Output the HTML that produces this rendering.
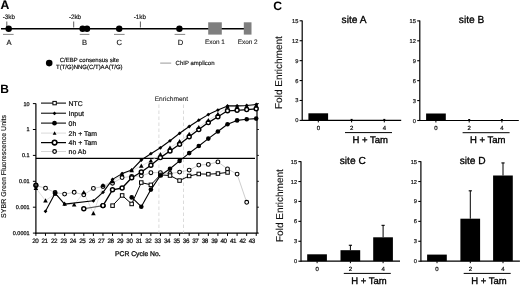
<!DOCTYPE html>
<html><head><meta charset="utf-8"><style>
html,body{margin:0;padding:0;background:#fff;}
svg{display:block;font-family:"Liberation Sans", sans-serif;text-rendering:geometricPrecision;filter:blur(0.3px);}
</style></head><body>
<svg width="520" height="285" viewBox="0 0 520 285">
<rect width="520" height="285" fill="#fff"/>
<text x="0.4" y="9.0" font-size="12.2" text-anchor="start" font-weight="bold" fill="#000" stroke="#000" stroke-width="0.1">A</text>
<line x1="1" y1="28.7" x2="244" y2="28.7" stroke="#000" stroke-width="1.4" />
<line x1="6.8" y1="21.5" x2="6.8" y2="27.5" stroke="#333" stroke-width="0.8" />
<text x="8.9" y="18.7" font-size="6.3" text-anchor="middle" font-weight="normal" fill="#111"  stroke="#111" stroke-width="0.15">-3kb</text>
<line x1="73.7" y1="21.5" x2="73.7" y2="27.5" stroke="#333" stroke-width="0.8" />
<text x="75.0" y="18.7" font-size="6.3" text-anchor="middle" font-weight="normal" fill="#111"  stroke="#111" stroke-width="0.15">-2kb</text>
<line x1="140.4" y1="21.5" x2="140.4" y2="27.5" stroke="#333" stroke-width="0.8" />
<text x="139.8" y="18.7" font-size="6.3" text-anchor="middle" font-weight="normal" fill="#111"  stroke="#111" stroke-width="0.15">-1kb</text>
<rect x="208.2" y="22.3" width="13.6" height="12.3" fill="#7f7f7f"/>
<rect x="243.8" y="22.3" width="7.7" height="12.3" fill="#7f7f7f"/>
<text x="214.9" y="43.6" font-size="6.4" text-anchor="middle" font-weight="normal" fill="#222"  stroke="#222" stroke-width="0.12">Exon 1</text>
<text x="247.7" y="43.6" font-size="6.4" text-anchor="middle" font-weight="normal" fill="#222"  stroke="#222" stroke-width="0.12">Exon 2</text>
<circle cx="8.7" cy="28.7" r="3.2" fill="#000"/>
<circle cx="82.6" cy="28.7" r="3.2" fill="#000"/>
<circle cx="87.0" cy="28.7" r="3.2" fill="#000"/>
<circle cx="119.2" cy="28.7" r="3.2" fill="#000"/>
<circle cx="179.4" cy="28.7" r="3.2" fill="#000"/>
<line x1="3" y1="34.4" x2="13.6" y2="34.4" stroke="#777" stroke-width="0.9" />
<line x1="79.8" y1="34.4" x2="89.4" y2="34.4" stroke="#777" stroke-width="0.9" />
<line x1="114" y1="34.4" x2="124.6" y2="34.4" stroke="#777" stroke-width="0.9" />
<line x1="174.6" y1="34.4" x2="185.2" y2="34.4" stroke="#777" stroke-width="0.9" />
<text x="9.1" y="44.8" font-size="7.6" text-anchor="middle" font-weight="normal" fill="#111"  stroke="#111" stroke-width="0.15">A</text>
<text x="84.6" y="44.8" font-size="7.6" text-anchor="middle" font-weight="normal" fill="#111"  stroke="#111" stroke-width="0.15">B</text>
<text x="119.3" y="44.8" font-size="7.6" text-anchor="middle" font-weight="normal" fill="#111"  stroke="#111" stroke-width="0.15">C</text>
<text x="180.4" y="44.8" font-size="7.6" text-anchor="middle" font-weight="normal" fill="#111"  stroke="#111" stroke-width="0.15">D</text>
<circle cx="49.2" cy="63.1" r="3.3" fill="#000"/>
<text x="89.4" y="62" font-size="6" text-anchor="middle" font-weight="normal" fill="#000"  stroke="#000" stroke-width="0.15">C/EBP consensus site</text>
<text x="89.3" y="69.2" font-size="6" text-anchor="middle" font-weight="normal" fill="#000"  stroke="#000" stroke-width="0.15">T(T/G)NNG(C/T)AA(T/G)</text>
<line x1="160.2" y1="63.1" x2="171.2" y2="63.1" stroke="#999" stroke-width="1" />
<text x="175.6" y="65.4" font-size="6" text-anchor="start" font-weight="normal" fill="#111"  stroke="#111" stroke-width="0.15">ChIP amplicon</text>
<text x="0.2" y="92.5" font-size="12.0" text-anchor="start" font-weight="bold" fill="#000" >B</text>
<line x1="35.9" y1="103.6" x2="35.9" y2="233.6" stroke="#000" stroke-width="1.2" />
<line x1="35.3" y1="233.1" x2="257.6" y2="233.1" stroke="#000" stroke-width="1.2" />
<line x1="257.0" y1="103.6" x2="257.0" y2="233.1" stroke="#000" stroke-width="1.2" />
<line x1="32.9" y1="233.1" x2="35.9" y2="233.1" stroke="#000" stroke-width="1" />
<line x1="257.0" y1="233.1" x2="259.0" y2="233.1" stroke="#000" stroke-width="0.8" />
<text x="29.6" y="235.0" font-size="5.5" text-anchor="end" font-weight="normal" fill="#111"  stroke="#111" stroke-width="0.25">0.0001</text>
<line x1="32.9" y1="207.2" x2="35.9" y2="207.2" stroke="#000" stroke-width="1" />
<line x1="257.0" y1="207.2" x2="259.0" y2="207.2" stroke="#000" stroke-width="0.8" />
<text x="29.6" y="209.1" font-size="5.5" text-anchor="end" font-weight="normal" fill="#111"  stroke="#111" stroke-width="0.25">0.001</text>
<line x1="32.9" y1="181.3" x2="35.9" y2="181.3" stroke="#000" stroke-width="1" />
<line x1="257.0" y1="181.3" x2="259.0" y2="181.3" stroke="#000" stroke-width="0.8" />
<text x="29.6" y="183.20000000000002" font-size="5.5" text-anchor="end" font-weight="normal" fill="#111"  stroke="#111" stroke-width="0.25">0.01</text>
<line x1="32.9" y1="155.4" x2="35.9" y2="155.4" stroke="#000" stroke-width="1" />
<line x1="257.0" y1="155.4" x2="259.0" y2="155.4" stroke="#000" stroke-width="0.8" />
<text x="29.6" y="157.3" font-size="5.5" text-anchor="end" font-weight="normal" fill="#111"  stroke="#111" stroke-width="0.25">0.1</text>
<line x1="32.9" y1="129.5" x2="35.9" y2="129.5" stroke="#000" stroke-width="1" />
<line x1="257.0" y1="129.5" x2="259.0" y2="129.5" stroke="#000" stroke-width="0.8" />
<text x="29.6" y="131.4" font-size="5.5" text-anchor="end" font-weight="normal" fill="#111"  stroke="#111" stroke-width="0.25">1</text>
<line x1="32.9" y1="103.6" x2="35.9" y2="103.6" stroke="#000" stroke-width="1" />
<line x1="257.0" y1="103.6" x2="259.0" y2="103.6" stroke="#000" stroke-width="0.8" />
<text x="29.6" y="105.5" font-size="5.5" text-anchor="end" font-weight="normal" fill="#111"  stroke="#111" stroke-width="0.25">10</text>
<line x1="35.9" y1="233.1" x2="35.9" y2="235.9" stroke="#000" stroke-width="1" />
<text x="35.2" y="243.0" font-size="6.3" text-anchor="middle" font-weight="normal" fill="#111" letter-spacing="-0.45" stroke="#111" stroke-width="0.22">20</text>
<line x1="45.48" y1="233.1" x2="45.48" y2="235.9" stroke="#000" stroke-width="1" />
<text x="44.620000000000005" y="243.0" font-size="6.3" text-anchor="middle" font-weight="normal" fill="#111" letter-spacing="-0.45" stroke="#111" stroke-width="0.22">21</text>
<line x1="55.06" y1="233.1" x2="55.06" y2="235.9" stroke="#000" stroke-width="1" />
<text x="54.040000000000006" y="243.0" font-size="6.3" text-anchor="middle" font-weight="normal" fill="#111" letter-spacing="-0.45" stroke="#111" stroke-width="0.22">22</text>
<line x1="64.64" y1="233.1" x2="64.64" y2="235.9" stroke="#000" stroke-width="1" />
<text x="63.46" y="243.0" font-size="6.3" text-anchor="middle" font-weight="normal" fill="#111" letter-spacing="-0.45" stroke="#111" stroke-width="0.22">23</text>
<line x1="74.22" y1="233.1" x2="74.22" y2="235.9" stroke="#000" stroke-width="1" />
<text x="72.88" y="243.0" font-size="6.3" text-anchor="middle" font-weight="normal" fill="#111" letter-spacing="-0.45" stroke="#111" stroke-width="0.22">24</text>
<line x1="83.8" y1="233.1" x2="83.8" y2="235.9" stroke="#000" stroke-width="1" />
<text x="82.30000000000001" y="243.0" font-size="6.3" text-anchor="middle" font-weight="normal" fill="#111" letter-spacing="-0.45" stroke="#111" stroke-width="0.22">25</text>
<line x1="93.38" y1="233.1" x2="93.38" y2="235.9" stroke="#000" stroke-width="1" />
<text x="91.72" y="243.0" font-size="6.3" text-anchor="middle" font-weight="normal" fill="#111" letter-spacing="-0.45" stroke="#111" stroke-width="0.22">26</text>
<line x1="102.96000000000001" y1="233.1" x2="102.96000000000001" y2="235.9" stroke="#000" stroke-width="1" />
<text x="101.14" y="243.0" font-size="6.3" text-anchor="middle" font-weight="normal" fill="#111" letter-spacing="-0.45" stroke="#111" stroke-width="0.22">27</text>
<line x1="112.53999999999999" y1="233.1" x2="112.53999999999999" y2="235.9" stroke="#000" stroke-width="1" />
<text x="110.56" y="243.0" font-size="6.3" text-anchor="middle" font-weight="normal" fill="#111" letter-spacing="-0.45" stroke="#111" stroke-width="0.22">28</text>
<line x1="122.12" y1="233.1" x2="122.12" y2="235.9" stroke="#000" stroke-width="1" />
<text x="119.98" y="243.0" font-size="6.3" text-anchor="middle" font-weight="normal" fill="#111" letter-spacing="-0.45" stroke="#111" stroke-width="0.22">29</text>
<line x1="131.7" y1="233.1" x2="131.7" y2="235.9" stroke="#000" stroke-width="1" />
<text x="129.4" y="243.0" font-size="6.3" text-anchor="middle" font-weight="normal" fill="#111" letter-spacing="-0.45" stroke="#111" stroke-width="0.22">30</text>
<line x1="141.28" y1="233.1" x2="141.28" y2="235.9" stroke="#000" stroke-width="1" />
<text x="138.82" y="243.0" font-size="6.3" text-anchor="middle" font-weight="normal" fill="#111" letter-spacing="-0.45" stroke="#111" stroke-width="0.22">31</text>
<line x1="150.86" y1="233.1" x2="150.86" y2="235.9" stroke="#000" stroke-width="1" />
<text x="148.24" y="243.0" font-size="6.3" text-anchor="middle" font-weight="normal" fill="#111" letter-spacing="-0.45" stroke="#111" stroke-width="0.22">32</text>
<line x1="160.44" y1="233.1" x2="160.44" y2="235.9" stroke="#000" stroke-width="1" />
<text x="157.66" y="243.0" font-size="6.3" text-anchor="middle" font-weight="normal" fill="#111" letter-spacing="-0.45" stroke="#111" stroke-width="0.22">33</text>
<line x1="170.02" y1="233.1" x2="170.02" y2="235.9" stroke="#000" stroke-width="1" />
<text x="167.07999999999998" y="243.0" font-size="6.3" text-anchor="middle" font-weight="normal" fill="#111" letter-spacing="-0.45" stroke="#111" stroke-width="0.22">34</text>
<line x1="179.6" y1="233.1" x2="179.6" y2="235.9" stroke="#000" stroke-width="1" />
<text x="176.5" y="243.0" font-size="6.3" text-anchor="middle" font-weight="normal" fill="#111" letter-spacing="-0.45" stroke="#111" stroke-width="0.22">35</text>
<line x1="189.18" y1="233.1" x2="189.18" y2="235.9" stroke="#000" stroke-width="1" />
<text x="185.92000000000002" y="243.0" font-size="6.3" text-anchor="middle" font-weight="normal" fill="#111" letter-spacing="-0.45" stroke="#111" stroke-width="0.22">36</text>
<line x1="198.76000000000002" y1="233.1" x2="198.76000000000002" y2="235.9" stroke="#000" stroke-width="1" />
<text x="195.33999999999997" y="243.0" font-size="6.3" text-anchor="middle" font-weight="normal" fill="#111" letter-spacing="-0.45" stroke="#111" stroke-width="0.22">37</text>
<line x1="208.34" y1="233.1" x2="208.34" y2="235.9" stroke="#000" stroke-width="1" />
<text x="204.76" y="243.0" font-size="6.3" text-anchor="middle" font-weight="normal" fill="#111" letter-spacing="-0.45" stroke="#111" stroke-width="0.22">38</text>
<line x1="217.92000000000002" y1="233.1" x2="217.92000000000002" y2="235.9" stroke="#000" stroke-width="1" />
<text x="214.18" y="243.0" font-size="6.3" text-anchor="middle" font-weight="normal" fill="#111" letter-spacing="-0.45" stroke="#111" stroke-width="0.22">39</text>
<line x1="227.5" y1="233.1" x2="227.5" y2="235.9" stroke="#000" stroke-width="1" />
<text x="223.60000000000002" y="243.0" font-size="6.3" text-anchor="middle" font-weight="normal" fill="#111" letter-spacing="-0.45" stroke="#111" stroke-width="0.22">40</text>
<line x1="237.08" y1="233.1" x2="237.08" y2="235.9" stroke="#000" stroke-width="1" />
<text x="233.01999999999998" y="243.0" font-size="6.3" text-anchor="middle" font-weight="normal" fill="#111" letter-spacing="-0.45" stroke="#111" stroke-width="0.22">41</text>
<line x1="246.66" y1="233.1" x2="246.66" y2="235.9" stroke="#000" stroke-width="1" />
<text x="242.44" y="243.0" font-size="6.3" text-anchor="middle" font-weight="normal" fill="#111" letter-spacing="-0.45" stroke="#111" stroke-width="0.22">42</text>
<line x1="256.24" y1="233.1" x2="256.24" y2="235.9" stroke="#000" stroke-width="1" />
<text x="251.86" y="243.0" font-size="6.3" text-anchor="middle" font-weight="normal" fill="#111" letter-spacing="-0.45" stroke="#111" stroke-width="0.22">43</text>
<text x="137.8" y="256" font-size="6.8" text-anchor="middle" font-weight="normal" fill="#111"  stroke="#111" stroke-width="0.3">PCR Cycle No.</text>
<text transform="translate(5.7,166.4) rotate(-90)" font-size="7.05" text-anchor="middle" fill="#111" stroke="#111" stroke-width="0.15">SYBR Green Fluorescence Units</text>
<line x1="158.9" y1="104.5" x2="158.9" y2="233.1" stroke="#cfcfcf" stroke-width="0.75" stroke-dasharray="3.5,2.5"/>
<line x1="183.5" y1="104.5" x2="183.5" y2="233.1" stroke="#cfcfcf" stroke-width="0.75" stroke-dasharray="3.5,2.5"/>
<text x="171.4" y="101" font-size="6.6" text-anchor="middle" font-weight="normal" fill="#222"  stroke="#222" stroke-width="0.08">Enrichment</text>
<line x1="35.9" y1="158.4" x2="255" y2="158.4" stroke="#000" stroke-width="1.2" />
<polyline points="35.9,185.5 45.5,188.2 55.1,192.5 64.6,194.1 74.2,192.3 83.8,194.8 93.4,188.4 103.0,186.5 112.5,183.2 122.1,177.6 131.7,176.5 141.3,175.8 150.9,172.7 160.4,172.6 170.0,173.5 179.6,172.1 189.2,170.1 198.8,165.1 208.3,164.4 217.9,161.9 227.5,168.9 237.1,174.1 246.7,202.3" fill="none" stroke="#bcbcbc" stroke-width="0.75" stroke-linejoin="round"/>
<polyline points="35.9,188.2 45.5,200.6 55.1,194.0 64.6,204.0 74.2,204.8 83.8,192.5 93.4,213.4 103.0,185.5 112.5,181.5 122.1,174.5 131.7,170.5 141.3,166.0 150.9,160.8 160.4,154.4 170.0,147.8 179.6,141.4 189.2,134.2 198.8,127.3 208.3,120.3 217.9,114.2 227.5,106.8 237.1,106.6 246.7,106.3 256.2,105.6" fill="none" stroke="#d2d2d2" stroke-width="0.7" stroke-linejoin="round"/>
<polyline points="45.5,211.3 55.1,193.2 64.6,204.1 93.4,200.8 103.0,192.3 112.5,179.4 122.1,173.6 131.7,170.1 141.3,160.0 150.9,153.7 160.4,147.8 170.0,140.8 179.6,133.3 189.2,126.5 198.8,120.2 208.3,114.6 217.9,110.1 227.5,105.9 237.1,105.9 246.7,105.5 256.2,104.5" fill="none" stroke="#000" stroke-width="1.1" stroke-linejoin="round"/>
<polyline points="83.8,208.7 103.0,205.6" fill="none" stroke="#555" stroke-width="1.1" stroke-linejoin="round"/>
<polyline points="103.0,205.6 112.5,189.8 122.1,188.0 131.7,177.7 141.3,172.0 150.9,165.2 160.4,157.6 170.0,151.0 179.6,144.2 189.2,136.8 198.8,129.6 208.3,122.6 217.9,116.8 227.5,110.8 237.1,110.3 246.7,109.6 256.2,108.8" fill="none" stroke="#000" stroke-width="1.3" stroke-linejoin="round"/>
<polyline points="131.7,197.4 141.3,206.7 150.9,189.6 160.4,175.5 170.0,168.7 179.6,160.9 189.2,153.1 198.8,146.0 208.3,138.6 217.9,131.5 227.5,124.2 237.1,120.4 246.7,119.2 256.2,118.6" fill="none" stroke="#000" stroke-width="1.1" stroke-linejoin="round"/>
<polyline points="112.5,205.7 122.1,195.4 131.7,203.9 141.3,182.6 150.9,184.8 160.4,174.9 170.0,175.5 179.6,180.5 189.2,176.0 198.8,173.9 208.3,174.2 217.9,173.6 227.5,172.4" fill="none" stroke="#000" stroke-width="1.0" stroke-linejoin="round"/>
<circle cx="35.9" cy="185.5" r="1.9" fill="#fff" stroke="#000" stroke-width="1.1"/>
<circle cx="45.5" cy="188.2" r="1.9" fill="#fff" stroke="#000" stroke-width="1.1"/>
<circle cx="55.1" cy="192.5" r="1.9" fill="#fff" stroke="#000" stroke-width="1.1"/>
<circle cx="64.6" cy="194.1" r="1.9" fill="#fff" stroke="#000" stroke-width="1.1"/>
<circle cx="74.2" cy="192.3" r="1.9" fill="#fff" stroke="#000" stroke-width="1.1"/>
<circle cx="83.8" cy="194.8" r="1.9" fill="#fff" stroke="#000" stroke-width="1.1"/>
<circle cx="93.4" cy="188.4" r="1.9" fill="#fff" stroke="#000" stroke-width="1.1"/>
<circle cx="103.0" cy="186.5" r="1.9" fill="#fff" stroke="#000" stroke-width="1.1"/>
<circle cx="112.5" cy="183.2" r="1.9" fill="#fff" stroke="#000" stroke-width="1.1"/>
<circle cx="122.1" cy="177.6" r="1.9" fill="#fff" stroke="#000" stroke-width="1.1"/>
<circle cx="131.7" cy="176.5" r="1.9" fill="#fff" stroke="#000" stroke-width="1.1"/>
<circle cx="141.3" cy="175.8" r="1.9" fill="#fff" stroke="#000" stroke-width="1.1"/>
<circle cx="150.9" cy="172.7" r="1.9" fill="#fff" stroke="#000" stroke-width="1.1"/>
<circle cx="160.4" cy="172.6" r="1.9" fill="#fff" stroke="#000" stroke-width="1.1"/>
<circle cx="170.0" cy="173.5" r="1.9" fill="#fff" stroke="#000" stroke-width="1.1"/>
<circle cx="179.6" cy="172.1" r="1.9" fill="#fff" stroke="#000" stroke-width="1.1"/>
<circle cx="189.2" cy="170.1" r="1.9" fill="#fff" stroke="#000" stroke-width="1.1"/>
<circle cx="198.8" cy="165.1" r="1.9" fill="#fff" stroke="#000" stroke-width="1.1"/>
<circle cx="208.3" cy="164.4" r="1.9" fill="#fff" stroke="#000" stroke-width="1.1"/>
<circle cx="217.9" cy="161.9" r="1.9" fill="#fff" stroke="#000" stroke-width="1.1"/>
<circle cx="227.5" cy="168.9" r="1.9" fill="#fff" stroke="#000" stroke-width="1.1"/>
<circle cx="237.1" cy="174.1" r="1.9" fill="#fff" stroke="#000" stroke-width="1.1"/>
<circle cx="246.7" cy="202.3" r="1.9" fill="#fff" stroke="#000" stroke-width="1.1"/>
<rect x="110.8" y="203.9" width="3.5" height="3.5" fill="#fff" stroke="#000" stroke-width="1.0"/>
<rect x="120.4" y="193.7" width="3.5" height="3.5" fill="#fff" stroke="#000" stroke-width="1.0"/>
<rect x="129.9" y="202.2" width="3.5" height="3.5" fill="#fff" stroke="#000" stroke-width="1.0"/>
<rect x="139.5" y="180.8" width="3.5" height="3.5" fill="#fff" stroke="#000" stroke-width="1.0"/>
<rect x="149.1" y="183.1" width="3.5" height="3.5" fill="#fff" stroke="#000" stroke-width="1.0"/>
<rect x="158.7" y="173.2" width="3.5" height="3.5" fill="#fff" stroke="#000" stroke-width="1.0"/>
<rect x="168.3" y="173.8" width="3.5" height="3.5" fill="#fff" stroke="#000" stroke-width="1.0"/>
<rect x="177.8" y="178.8" width="3.5" height="3.5" fill="#fff" stroke="#000" stroke-width="1.0"/>
<rect x="187.4" y="174.2" width="3.5" height="3.5" fill="#fff" stroke="#000" stroke-width="1.0"/>
<rect x="197.0" y="172.2" width="3.5" height="3.5" fill="#fff" stroke="#000" stroke-width="1.0"/>
<rect x="206.6" y="172.4" width="3.5" height="3.5" fill="#fff" stroke="#000" stroke-width="1.0"/>
<rect x="216.2" y="171.8" width="3.5" height="3.5" fill="#fff" stroke="#000" stroke-width="1.0"/>
<rect x="225.8" y="170.7" width="3.5" height="3.5" fill="#fff" stroke="#000" stroke-width="1.0"/>
<circle cx="83.8" cy="208.7" r="2.0" fill="#fff" stroke="#000" stroke-width="1.45"/>
<circle cx="103.0" cy="205.6" r="2.0" fill="#fff" stroke="#000" stroke-width="1.45"/>
<circle cx="103.0" cy="205.6" r="2.0" fill="#fff" stroke="#000" stroke-width="1.45"/>
<circle cx="112.5" cy="189.8" r="2.0" fill="#fff" stroke="#000" stroke-width="1.45"/>
<circle cx="122.1" cy="188.0" r="2.0" fill="#fff" stroke="#000" stroke-width="1.45"/>
<circle cx="131.7" cy="177.7" r="2.0" fill="#fff" stroke="#000" stroke-width="1.45"/>
<circle cx="141.3" cy="172.0" r="2.0" fill="#fff" stroke="#000" stroke-width="1.45"/>
<circle cx="150.9" cy="165.2" r="2.0" fill="#fff" stroke="#000" stroke-width="1.45"/>
<circle cx="160.4" cy="157.6" r="2.0" fill="#fff" stroke="#000" stroke-width="1.45"/>
<circle cx="170.0" cy="151.0" r="2.0" fill="#fff" stroke="#000" stroke-width="1.45"/>
<circle cx="179.6" cy="144.2" r="2.0" fill="#fff" stroke="#000" stroke-width="1.45"/>
<circle cx="189.2" cy="136.8" r="2.0" fill="#fff" stroke="#000" stroke-width="1.45"/>
<circle cx="198.8" cy="129.6" r="2.0" fill="#fff" stroke="#000" stroke-width="1.45"/>
<circle cx="208.3" cy="122.6" r="2.0" fill="#fff" stroke="#000" stroke-width="1.45"/>
<circle cx="217.9" cy="116.8" r="2.0" fill="#fff" stroke="#000" stroke-width="1.45"/>
<circle cx="227.5" cy="110.8" r="2.0" fill="#fff" stroke="#000" stroke-width="1.45"/>
<circle cx="237.1" cy="110.3" r="2.0" fill="#fff" stroke="#000" stroke-width="1.45"/>
<circle cx="246.7" cy="109.6" r="2.0" fill="#fff" stroke="#000" stroke-width="1.45"/>
<circle cx="256.2" cy="108.8" r="2.0" fill="#fff" stroke="#000" stroke-width="1.45"/>
<circle cx="131.7" cy="197.4" r="2.3" fill="#000"/>
<circle cx="141.3" cy="206.7" r="2.3" fill="#000"/>
<circle cx="150.9" cy="189.6" r="2.3" fill="#000"/>
<circle cx="160.4" cy="175.5" r="2.3" fill="#000"/>
<circle cx="170.0" cy="168.7" r="2.3" fill="#000"/>
<circle cx="179.6" cy="160.9" r="2.3" fill="#000"/>
<circle cx="189.2" cy="153.1" r="2.3" fill="#000"/>
<circle cx="198.8" cy="146.0" r="2.3" fill="#000"/>
<circle cx="208.3" cy="138.6" r="2.3" fill="#000"/>
<circle cx="217.9" cy="131.5" r="2.3" fill="#000"/>
<circle cx="227.5" cy="124.2" r="2.3" fill="#000"/>
<circle cx="237.1" cy="120.4" r="2.3" fill="#000"/>
<circle cx="246.7" cy="119.2" r="2.3" fill="#000"/>
<circle cx="256.2" cy="118.6" r="2.3" fill="#000"/>
<circle cx="55.1" cy="193.2" r="2.2" fill="#000"/>
<circle cx="35.9" cy="185.2" r="2.0" fill="#444" stroke="#000" stroke-width="1.3"/>
<path d="M35.9,185.8 L38.2,190.0 L33.6,190.0Z" fill="#000"/>
<path d="M45.5,198.2 L47.8,202.4 L43.2,202.4Z" fill="#000"/>
<path d="M55.1,191.6 L57.3,195.8 L52.8,195.8Z" fill="#000"/>
<path d="M64.6,201.6 L66.9,205.8 L62.4,205.8Z" fill="#000"/>
<path d="M74.2,202.4 L76.5,206.6 L71.9,206.6Z" fill="#000"/>
<path d="M83.8,190.1 L86.1,194.3 L81.5,194.3Z" fill="#000"/>
<path d="M93.4,211.0 L95.7,215.2 L91.1,215.2Z" fill="#000"/>
<path d="M103.0,183.1 L105.2,187.3 L100.7,187.3Z" fill="#000"/>
<path d="M112.5,179.1 L114.8,183.3 L110.3,183.3Z" fill="#000"/>
<path d="M122.1,172.1 L124.4,176.3 L119.8,176.3Z" fill="#000"/>
<path d="M131.7,168.1 L134.0,172.3 L129.4,172.3Z" fill="#000"/>
<path d="M141.3,163.6 L143.6,167.8 L139.0,167.8Z" fill="#000"/>
<path d="M150.9,158.4 L153.1,162.6 L148.6,162.6Z" fill="#000"/>
<path d="M160.4,152.0 L162.7,156.2 L158.2,156.2Z" fill="#000"/>
<path d="M170.0,145.4 L172.3,149.6 L167.7,149.6Z" fill="#000"/>
<path d="M179.6,139.0 L181.9,143.2 L177.3,143.2Z" fill="#000"/>
<path d="M189.2,131.8 L191.5,136.0 L186.9,136.0Z" fill="#000"/>
<path d="M198.8,124.9 L201.0,129.1 L196.5,129.1Z" fill="#000"/>
<path d="M208.3,117.9 L210.6,122.1 L206.1,122.1Z" fill="#000"/>
<path d="M217.9,111.8 L220.2,116.0 L215.6,116.0Z" fill="#000"/>
<path d="M227.5,104.4 L229.8,108.6 L225.2,108.6Z" fill="#000"/>
<path d="M237.1,104.2 L239.4,108.4 L234.8,108.4Z" fill="#000"/>
<path d="M246.7,103.9 L248.9,108.1 L244.4,108.1Z" fill="#000"/>
<path d="M256.2,103.2 L258.5,107.4 L254.0,107.4Z" fill="#000"/>
<path d="M45.5,209.4 L47.4,211.3 L45.5,213.2 L43.6,211.3Z" fill="#000"/>
<path d="M55.1,191.3 L57.0,193.2 L55.1,195.1 L53.2,193.2Z" fill="#000"/>
<path d="M64.6,202.2 L66.5,204.1 L64.6,206.0 L62.7,204.1Z" fill="#000"/>
<path d="M93.4,198.9 L95.3,200.8 L93.4,202.7 L91.5,200.8Z" fill="#000"/>
<path d="M103.0,190.4 L104.9,192.3 L103.0,194.2 L101.1,192.3Z" fill="#000"/>
<path d="M112.5,177.5 L114.4,179.4 L112.5,181.3 L110.6,179.4Z" fill="#000"/>
<path d="M122.1,171.7 L124.0,173.6 L122.1,175.5 L120.2,173.6Z" fill="#000"/>
<path d="M131.7,168.2 L133.6,170.1 L131.7,172.0 L129.8,170.1Z" fill="#000"/>
<path d="M141.3,158.1 L143.2,160.0 L141.3,161.9 L139.4,160.0Z" fill="#000"/>
<path d="M150.9,151.8 L152.8,153.7 L150.9,155.6 L149.0,153.7Z" fill="#000"/>
<path d="M160.4,145.9 L162.3,147.8 L160.4,149.7 L158.5,147.8Z" fill="#000"/>
<path d="M170.0,138.9 L171.9,140.8 L170.0,142.7 L168.1,140.8Z" fill="#000"/>
<path d="M179.6,131.4 L181.5,133.3 L179.6,135.2 L177.7,133.3Z" fill="#000"/>
<path d="M189.2,124.6 L191.1,126.5 L189.2,128.4 L187.3,126.5Z" fill="#000"/>
<path d="M198.8,118.3 L200.7,120.2 L198.8,122.1 L196.9,120.2Z" fill="#000"/>
<path d="M208.3,112.7 L210.2,114.6 L208.3,116.5 L206.4,114.6Z" fill="#000"/>
<path d="M217.9,108.2 L219.8,110.1 L217.9,112.0 L216.0,110.1Z" fill="#000"/>
<path d="M227.5,104.0 L229.4,105.9 L227.5,107.8 L225.6,105.9Z" fill="#000"/>
<path d="M237.1,104.0 L239.0,105.9 L237.1,107.8 L235.2,105.9Z" fill="#000"/>
<path d="M246.7,103.6 L248.6,105.5 L246.7,107.4 L244.8,105.5Z" fill="#000"/>
<path d="M256.2,102.6 L258.1,104.5 L256.2,106.4 L254.3,104.5Z" fill="#000"/>
<line x1="41" y1="103.1" x2="66" y2="103.1" stroke="#000" stroke-width="1.05" />
<text x="68.6" y="105.5" font-size="6.9" text-anchor="start" font-weight="normal" fill="#111"  stroke="#111" stroke-width="0.22">NTC</text>
<line x1="41" y1="113.2" x2="66" y2="113.2" stroke="#000" stroke-width="1.05" />
<text x="68.6" y="115.60000000000001" font-size="6.9" text-anchor="start" font-weight="normal" fill="#111"  stroke="#111" stroke-width="0.22">Input</text>
<line x1="41" y1="123.1" x2="66" y2="123.1" stroke="#000" stroke-width="1.05" />
<text x="68.6" y="125.5" font-size="6.9" text-anchor="start" font-weight="normal" fill="#111"  stroke="#111" stroke-width="0.22">0h</text>
<line x1="41" y1="133.1" x2="66" y2="133.1" stroke="#d0d0d0" stroke-width="0.8" />
<text x="68.6" y="135.5" font-size="6.9" text-anchor="start" font-weight="normal" fill="#111"  stroke="#111" stroke-width="0.22">2h + Tam</text>
<line x1="41" y1="142.6" x2="66" y2="142.6" stroke="#000" stroke-width="1.25" />
<text x="68.6" y="145.0" font-size="6.9" text-anchor="start" font-weight="normal" fill="#111"  stroke="#111" stroke-width="0.22">4h + Tam</text>
<line x1="41" y1="151.5" x2="66" y2="151.5" stroke="#d0d0d0" stroke-width="0.9" />
<text x="68.6" y="153.9" font-size="6.9" text-anchor="start" font-weight="normal" fill="#111"  stroke="#111" stroke-width="0.22">no Ab</text>
<rect x="52.9" y="101.4" width="3.4" height="3.4" fill="#fff" stroke="#000" stroke-width="1.0"/>
<path d="M54.5,111.6 L56.3,113.4 L54.5,115.2 L52.7,113.4Z" fill="#000"/>
<circle cx="54.5" cy="123.2" r="2.35" fill="#000"/>
<path d="M54.6,131.3 L56.5,134.8 L52.7,134.8Z" fill="#000"/>
<circle cx="54.6" cy="142.6" r="2.3" fill="#fff" stroke="#000" stroke-width="1.6"/>
<circle cx="54.6" cy="151.5" r="1.8" fill="#fff" stroke="#000" stroke-width="1.2"/>
<text x="273.3" y="9.6" font-size="12.2" text-anchor="start" font-weight="bold" fill="#000" >C</text>
<line x1="302.2" y1="20.50000000000001" x2="302.2" y2="121.0" stroke="#000" stroke-width="1.2" />
<line x1="302.2" y1="120.4" x2="401.2" y2="120.4" stroke="#000" stroke-width="1.2" />
<line x1="299.59999999999997" y1="120.4" x2="302.2" y2="120.4" stroke="#000" stroke-width="1.1" />
<text x="298.3" y="122.4" font-size="5.7" text-anchor="end" font-weight="normal" fill="#222"  stroke="#222" stroke-width="0.22">0</text>
<line x1="299.59999999999997" y1="100.48" x2="302.2" y2="100.48" stroke="#000" stroke-width="1.1" />
<text x="298.3" y="102.48" font-size="5.7" text-anchor="end" font-weight="normal" fill="#222"  stroke="#222" stroke-width="0.22">3</text>
<line x1="299.59999999999997" y1="80.56" x2="302.2" y2="80.56" stroke="#000" stroke-width="1.1" />
<text x="298.3" y="82.56" font-size="5.7" text-anchor="end" font-weight="normal" fill="#222"  stroke="#222" stroke-width="0.22">6</text>
<line x1="299.59999999999997" y1="60.64000000000001" x2="302.2" y2="60.64000000000001" stroke="#000" stroke-width="1.1" />
<text x="298.3" y="62.64000000000001" font-size="5.7" text-anchor="end" font-weight="normal" fill="#222"  stroke="#222" stroke-width="0.22">9</text>
<line x1="299.59999999999997" y1="40.72000000000001" x2="302.2" y2="40.72000000000001" stroke="#000" stroke-width="1.1" />
<text x="298.3" y="42.72000000000001" font-size="5.7" text-anchor="end" font-weight="normal" fill="#222"  stroke="#222" stroke-width="0.22">12</text>
<line x1="299.59999999999997" y1="20.80000000000001" x2="302.2" y2="20.80000000000001" stroke="#000" stroke-width="1.1" />
<text x="298.3" y="22.80000000000001" font-size="5.7" text-anchor="end" font-weight="normal" fill="#222"  stroke="#222" stroke-width="0.22">15</text>
<rect x="308.4" y="113.3" width="19.7" height="7.1" fill="#000"/>
<line x1="318.3" y1="120.4" x2="318.3" y2="122.4" stroke="#000" stroke-width="1" />
<text x="318.3" y="129.70000000000002" font-size="6" text-anchor="middle" font-weight="normal" fill="#111"  stroke="#111" stroke-width="0.22">0</text>
<rect x="350.6" y="118.9" width="2" height="1.5" fill="#000"/>
<line x1="351.59999999999997" y1="120.4" x2="351.59999999999997" y2="122.4" stroke="#000" stroke-width="1" />
<text x="351.59999999999997" y="129.70000000000002" font-size="6" text-anchor="middle" font-weight="normal" fill="#111"  stroke="#111" stroke-width="0.22">2</text>
<rect x="383.3" y="118.9" width="2" height="1.5" fill="#000"/>
<line x1="384.29999999999995" y1="120.4" x2="384.29999999999995" y2="122.4" stroke="#000" stroke-width="1" />
<text x="384.29999999999995" y="129.70000000000002" font-size="6" text-anchor="middle" font-weight="normal" fill="#111"  stroke="#111" stroke-width="0.22">4</text>
<line x1="345.0" y1="132.6" x2="392.0" y2="132.6" stroke="#000" stroke-width="1" />
<text x="370.2" y="142.9" font-size="9.5" text-anchor="middle" font-weight="normal" fill="#000" stroke="#000" stroke-width="0.35">H + Tam</text>
<text x="354.0" y="23.00000000000001" font-size="10.2" text-anchor="middle" font-weight="normal" fill="#000" stroke="#000" stroke-width="0.3">site A</text>
<line x1="419.8" y1="20.600000000000005" x2="419.8" y2="121.1" stroke="#000" stroke-width="1.2" />
<line x1="419.8" y1="120.5" x2="518.8" y2="120.5" stroke="#000" stroke-width="1.2" />
<line x1="417.2" y1="120.5" x2="419.8" y2="120.5" stroke="#000" stroke-width="1.1" />
<text x="415.90000000000003" y="122.5" font-size="5.7" text-anchor="end" font-weight="normal" fill="#222"  stroke="#222" stroke-width="0.22">0</text>
<line x1="417.2" y1="100.58" x2="419.8" y2="100.58" stroke="#000" stroke-width="1.1" />
<text x="415.90000000000003" y="102.58" font-size="5.7" text-anchor="end" font-weight="normal" fill="#222"  stroke="#222" stroke-width="0.22">3</text>
<line x1="417.2" y1="80.66" x2="419.8" y2="80.66" stroke="#000" stroke-width="1.1" />
<text x="415.90000000000003" y="82.66" font-size="5.7" text-anchor="end" font-weight="normal" fill="#222"  stroke="#222" stroke-width="0.22">6</text>
<line x1="417.2" y1="60.74" x2="419.8" y2="60.74" stroke="#000" stroke-width="1.1" />
<text x="415.90000000000003" y="62.74" font-size="5.7" text-anchor="end" font-weight="normal" fill="#222"  stroke="#222" stroke-width="0.22">9</text>
<line x1="417.2" y1="40.82000000000001" x2="419.8" y2="40.82000000000001" stroke="#000" stroke-width="1.1" />
<text x="415.90000000000003" y="42.82000000000001" font-size="5.7" text-anchor="end" font-weight="normal" fill="#222"  stroke="#222" stroke-width="0.22">12</text>
<line x1="417.2" y1="20.900000000000006" x2="419.8" y2="20.900000000000006" stroke="#000" stroke-width="1.1" />
<text x="415.90000000000003" y="22.900000000000006" font-size="5.7" text-anchor="end" font-weight="normal" fill="#222"  stroke="#222" stroke-width="0.22">15</text>
<rect x="426.1" y="113.5" width="19.7" height="7.0" fill="#000"/>
<line x1="435.90000000000003" y1="120.5" x2="435.90000000000003" y2="122.5" stroke="#000" stroke-width="1" />
<text x="435.90000000000003" y="129.8" font-size="6" text-anchor="middle" font-weight="normal" fill="#111"  stroke="#111" stroke-width="0.22">0</text>
<rect x="468.2" y="119.0" width="2" height="1.5" fill="#000"/>
<line x1="469.2" y1="120.5" x2="469.2" y2="122.5" stroke="#000" stroke-width="1" />
<text x="469.2" y="129.8" font-size="6" text-anchor="middle" font-weight="normal" fill="#111"  stroke="#111" stroke-width="0.22">2</text>
<rect x="500.9" y="119.0" width="2" height="1.5" fill="#000"/>
<line x1="501.9" y1="120.5" x2="501.9" y2="122.5" stroke="#000" stroke-width="1" />
<text x="501.9" y="129.8" font-size="6" text-anchor="middle" font-weight="normal" fill="#111"  stroke="#111" stroke-width="0.22">4</text>
<line x1="462.6" y1="132.7" x2="509.6" y2="132.7" stroke="#000" stroke-width="1" />
<text x="487.8" y="143.0" font-size="9.5" text-anchor="middle" font-weight="normal" fill="#000" stroke="#000" stroke-width="0.35">H + Tam</text>
<text x="471.6" y="23.100000000000005" font-size="10.2" text-anchor="middle" font-weight="normal" fill="#000" stroke="#000" stroke-width="0.3">site B</text>
<line x1="301.0" y1="161.29999999999998" x2="301.0" y2="261.8" stroke="#000" stroke-width="1.2" />
<line x1="301.0" y1="261.2" x2="400.0" y2="261.2" stroke="#000" stroke-width="1.2" />
<line x1="298.4" y1="261.2" x2="301.0" y2="261.2" stroke="#000" stroke-width="1.1" />
<text x="297.1" y="263.2" font-size="5.7" text-anchor="end" font-weight="normal" fill="#222"  stroke="#222" stroke-width="0.22">0</text>
<line x1="298.4" y1="241.28" x2="301.0" y2="241.28" stroke="#000" stroke-width="1.1" />
<text x="297.1" y="243.28" font-size="5.7" text-anchor="end" font-weight="normal" fill="#222"  stroke="#222" stroke-width="0.22">3</text>
<line x1="298.4" y1="221.35999999999999" x2="301.0" y2="221.35999999999999" stroke="#000" stroke-width="1.1" />
<text x="297.1" y="223.35999999999999" font-size="5.7" text-anchor="end" font-weight="normal" fill="#222"  stroke="#222" stroke-width="0.22">6</text>
<line x1="298.4" y1="201.44" x2="301.0" y2="201.44" stroke="#000" stroke-width="1.1" />
<text x="297.1" y="203.44" font-size="5.7" text-anchor="end" font-weight="normal" fill="#222"  stroke="#222" stroke-width="0.22">9</text>
<line x1="298.4" y1="181.51999999999998" x2="301.0" y2="181.51999999999998" stroke="#000" stroke-width="1.1" />
<text x="297.1" y="183.51999999999998" font-size="5.7" text-anchor="end" font-weight="normal" fill="#222"  stroke="#222" stroke-width="0.22">12</text>
<line x1="298.4" y1="161.6" x2="301.0" y2="161.6" stroke="#000" stroke-width="1.1" />
<text x="297.1" y="163.6" font-size="5.7" text-anchor="end" font-weight="normal" fill="#222"  stroke="#222" stroke-width="0.22">15</text>
<rect x="307.2" y="254.3" width="19.7" height="6.9" fill="#000"/>
<line x1="317.1" y1="261.2" x2="317.1" y2="263.2" stroke="#000" stroke-width="1" />
<text x="317.1" y="270.5" font-size="6" text-anchor="middle" font-weight="normal" fill="#111"  stroke="#111" stroke-width="0.22">0</text>
<rect x="340.5" y="250.2" width="19.7" height="11.0" fill="#000"/>
<line x1="350.4" y1="245.26399999999998" x2="350.4" y2="250.244" stroke="#000" stroke-width="1" />
<line x1="348.79999999999995" y1="245.26399999999998" x2="352.0" y2="245.26399999999998" stroke="#000" stroke-width="1.1" />
<line x1="350.4" y1="261.2" x2="350.4" y2="263.2" stroke="#000" stroke-width="1" />
<text x="350.4" y="270.5" font-size="6" text-anchor="middle" font-weight="normal" fill="#111"  stroke="#111" stroke-width="0.22">2</text>
<rect x="373.2" y="237.3" width="19.7" height="23.9" fill="#000"/>
<line x1="383.1" y1="225.344" x2="383.1" y2="237.296" stroke="#000" stroke-width="1" />
<line x1="381.5" y1="225.344" x2="384.70000000000005" y2="225.344" stroke="#000" stroke-width="1.1" />
<line x1="383.1" y1="261.2" x2="383.1" y2="263.2" stroke="#000" stroke-width="1" />
<text x="383.1" y="270.5" font-size="6" text-anchor="middle" font-weight="normal" fill="#111"  stroke="#111" stroke-width="0.22">4</text>
<line x1="343.8" y1="273.4" x2="390.8" y2="273.4" stroke="#000" stroke-width="1" />
<text x="369.0" y="283.7" font-size="9.5" text-anchor="middle" font-weight="normal" fill="#000" stroke="#000" stroke-width="0.35">H + Tam</text>
<text x="352.8" y="163.79999999999998" font-size="10.2" text-anchor="middle" font-weight="normal" fill="#000" stroke="#000" stroke-width="0.3">site C</text>
<line x1="420.9" y1="161.29999999999998" x2="420.9" y2="261.8" stroke="#000" stroke-width="1.2" />
<line x1="420.9" y1="261.2" x2="519.9" y2="261.2" stroke="#000" stroke-width="1.2" />
<line x1="418.29999999999995" y1="261.2" x2="420.9" y2="261.2" stroke="#000" stroke-width="1.1" />
<text x="417.0" y="263.2" font-size="5.7" text-anchor="end" font-weight="normal" fill="#222"  stroke="#222" stroke-width="0.22">0</text>
<line x1="418.29999999999995" y1="241.28" x2="420.9" y2="241.28" stroke="#000" stroke-width="1.1" />
<text x="417.0" y="243.28" font-size="5.7" text-anchor="end" font-weight="normal" fill="#222"  stroke="#222" stroke-width="0.22">3</text>
<line x1="418.29999999999995" y1="221.35999999999999" x2="420.9" y2="221.35999999999999" stroke="#000" stroke-width="1.1" />
<text x="417.0" y="223.35999999999999" font-size="5.7" text-anchor="end" font-weight="normal" fill="#222"  stroke="#222" stroke-width="0.22">6</text>
<line x1="418.29999999999995" y1="201.44" x2="420.9" y2="201.44" stroke="#000" stroke-width="1.1" />
<text x="417.0" y="203.44" font-size="5.7" text-anchor="end" font-weight="normal" fill="#222"  stroke="#222" stroke-width="0.22">9</text>
<line x1="418.29999999999995" y1="181.51999999999998" x2="420.9" y2="181.51999999999998" stroke="#000" stroke-width="1.1" />
<text x="417.0" y="183.51999999999998" font-size="5.7" text-anchor="end" font-weight="normal" fill="#222"  stroke="#222" stroke-width="0.22">12</text>
<line x1="418.29999999999995" y1="161.6" x2="420.9" y2="161.6" stroke="#000" stroke-width="1.1" />
<text x="417.0" y="163.6" font-size="5.7" text-anchor="end" font-weight="normal" fill="#222"  stroke="#222" stroke-width="0.22">15</text>
<rect x="427.1" y="254.6" width="19.7" height="6.6" fill="#000"/>
<line x1="437.0" y1="261.2" x2="437.0" y2="263.2" stroke="#000" stroke-width="1" />
<text x="437.0" y="270.5" font-size="6" text-anchor="middle" font-weight="normal" fill="#111"  stroke="#111" stroke-width="0.22">0</text>
<rect x="460.4" y="218.7" width="19.7" height="42.5" fill="#000"/>
<line x1="470.29999999999995" y1="190.81599999999997" x2="470.29999999999995" y2="218.70399999999998" stroke="#000" stroke-width="1" />
<line x1="468.69999999999993" y1="190.81599999999997" x2="471.9" y2="190.81599999999997" stroke="#000" stroke-width="1.1" />
<line x1="470.29999999999995" y1="261.2" x2="470.29999999999995" y2="263.2" stroke="#000" stroke-width="1" />
<text x="470.29999999999995" y="270.5" font-size="6" text-anchor="middle" font-weight="normal" fill="#111"  stroke="#111" stroke-width="0.22">2</text>
<rect x="493.1" y="175.5" width="19.7" height="85.7" fill="#000"/>
<line x1="503.0" y1="162.928" x2="503.0" y2="175.54399999999998" stroke="#000" stroke-width="1" />
<line x1="501.4" y1="162.928" x2="504.6" y2="162.928" stroke="#000" stroke-width="1.1" />
<line x1="503.0" y1="261.2" x2="503.0" y2="263.2" stroke="#000" stroke-width="1" />
<text x="503.0" y="270.5" font-size="6" text-anchor="middle" font-weight="normal" fill="#111"  stroke="#111" stroke-width="0.22">4</text>
<line x1="463.7" y1="273.4" x2="510.7" y2="273.4" stroke="#000" stroke-width="1" />
<text x="488.9" y="283.7" font-size="9.5" text-anchor="middle" font-weight="normal" fill="#000" stroke="#000" stroke-width="0.35">H + Tam</text>
<text x="472.7" y="163.79999999999998" font-size="10.2" text-anchor="middle" font-weight="normal" fill="#000" stroke="#000" stroke-width="0.3">site D</text>
<text transform="translate(282.3,72.6) rotate(-90)" font-size="10" text-anchor="middle" fill="#111" stroke="#111" stroke-width="0.12">Fold Enrichment</text>
<text transform="translate(283.3,205.6) rotate(-90)" font-size="10" text-anchor="middle" fill="#111" stroke="#111" stroke-width="0.12">Fold Enrichment</text>
</svg>
</body></html>
